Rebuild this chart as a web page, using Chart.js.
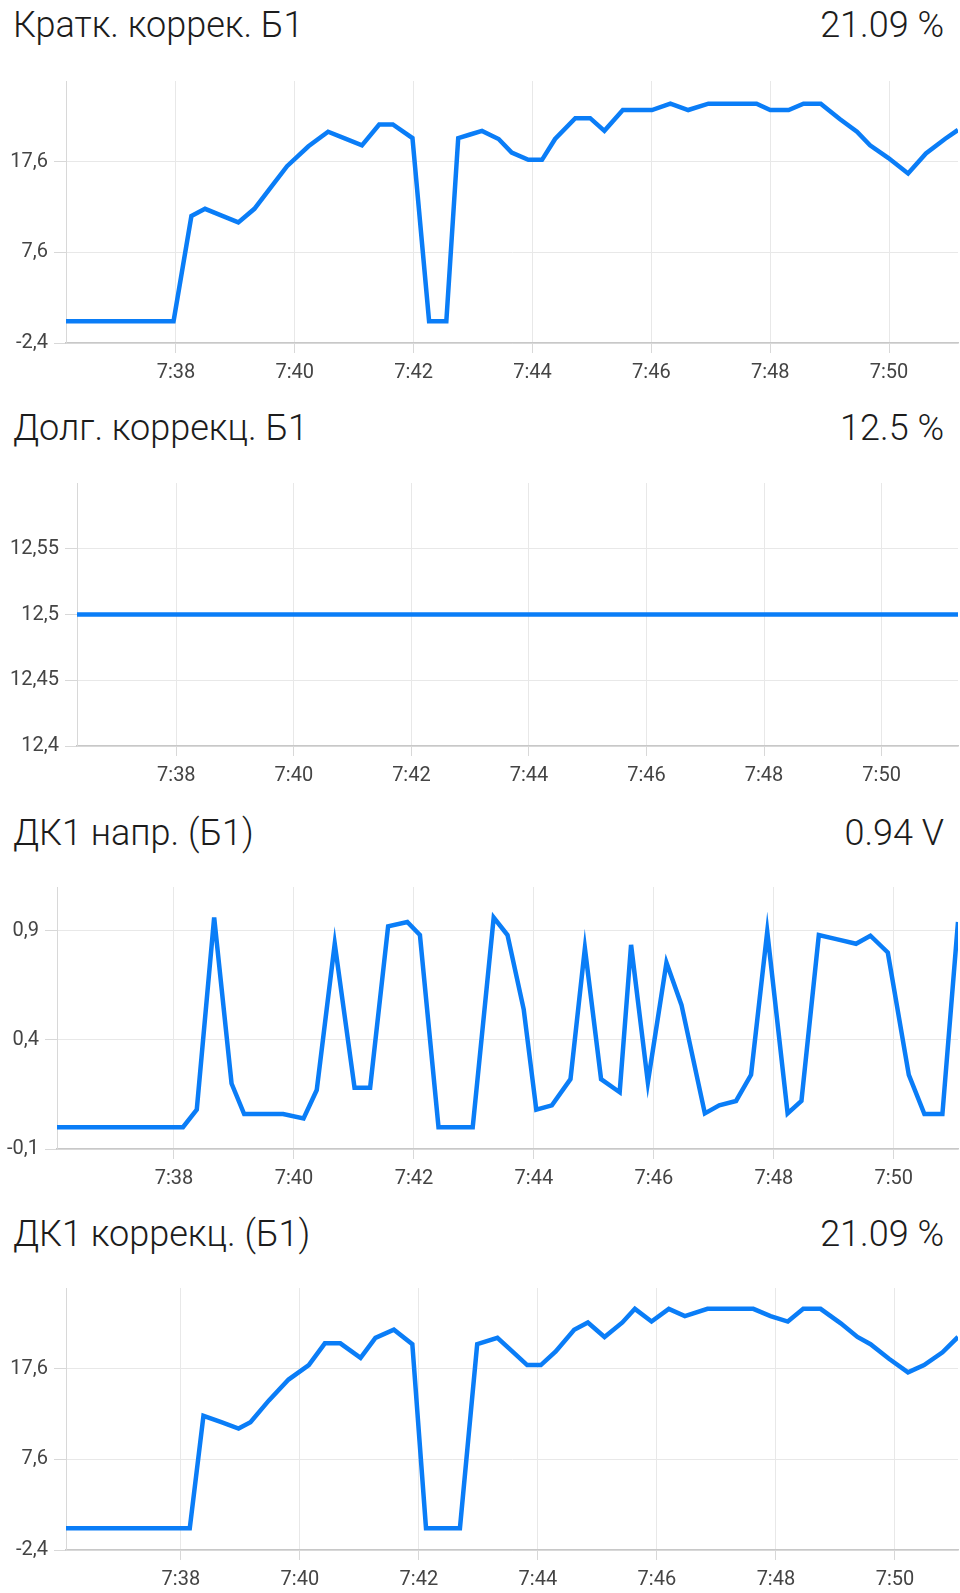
<!DOCTYPE html>
<html>
<head>
<meta charset="utf-8">
<script src="https://cdn.jsdelivr.net/npm/chart.js@4.4.1/dist/chart.umd.min.js"></script>
<style>
  body { margin: 0; background: #fff; width: 960px; height: 1593px; position: relative; overflow: hidden; font-family: Roboto, sans-serif; }
  .head { position: absolute; left: 0; width: 960px; height: 40px; line-height: 40px; font-size: 36px; font-weight: 300; color: #1c1c1c; }
  .head .name { position: absolute; left: 13px; }
  .head .val { position: absolute; right: 16px; }
  .box { position: absolute; left: 0; width: 960px; }
</style>
</head>
<body>

<div class="head" style="top:5px"><span class="name">Кратк. коррек. Б1</span><span class="val">21.09 %</span></div>
<div class="box" style="top:71px;height:317px"><canvas id="shortTrim"></canvas></div>

<div class="head" style="top:408px"><span class="name">Долг. коррекц. Б1</span><span class="val">12.5 %</span></div>
<div class="box" style="top:473px;height:318px"><canvas id="longTrim"></canvas></div>

<div class="head" style="top:813px"><span class="name">ДК1 напр. (Б1)</span><span class="val">0.94 V</span></div>
<div class="box" style="top:877px;height:317px"><canvas id="o2Volt"></canvas></div>

<div class="head" style="top:1214px"><span class="name">ДК1 коррекц. (Б1)</span><span class="val">21.09 %</span></div>
<div class="box" style="top:1278px;height:317px"><canvas id="o2Trim"></canvas></div>

<script>
// time is minutes past 7:00
const xTicks = [38, 40, 42, 44, 46, 48, 50];
const trimTicks = [-2.4, 7.6, 17.6];
const longTicks = [12.4, 12.45, 12.5, 12.55];
const voltTicks = [-0.1, 0.4, 0.9];

const shortTime = [36.15, 36.43, 36.72, 37.0, 37.29, 37.57, 37.96, 38.26, 38.49, 38.77, 39.05, 39.32, 39.59, 39.87,
  40.23, 40.56, 40.85, 41.13, 41.42, 41.65, 41.98, 42.26, 42.55, 42.75, 42.95, 43.15, 43.43, 43.65, 43.93, 44.16,
  44.38, 44.72, 44.97, 45.21, 45.52, 45.77, 46.01, 46.32, 46.62, 46.96, 47.23, 47.5, 47.77, 48.0, 48.31, 48.56,
  48.85, 49.17, 49.46, 49.68, 49.99, 50.32, 50.62, 50.94, 51.16];
const shortVal = [0, 0, 0, 0, 0, 0, 0, 11.6, 12.4, 11.65, 10.9, 12.4, 14.7, 17.1,
  19.3, 20.9, 20.15, 19.4, 21.7, 21.7, 20.2, 0, 0, 20.2, 20.6, 21.0, 20.1, 18.6, 17.8, 17.8,
  20.1, 22.4, 22.4, 21.0, 23.3, 23.3, 23.3, 24.0, 23.3, 24.0, 24.0, 24.0, 24.0, 23.3, 23.3, 24.0,
  24.0, 22.3, 20.9, 19.4, 18.0, 16.3, 18.5, 20.1, 21.1];

const longTime = [36.31, 36.9, 37.5, 38.1, 38.7, 39.3, 39.9, 40.5, 41.1, 41.7, 42.3, 42.9, 43.5,
  44.1, 44.7, 45.3, 45.9, 46.5, 47.1, 47.7, 48.3, 48.9, 49.5, 50.1, 50.7, 51.3];
const longVal = [12.5, 12.5, 12.5, 12.5, 12.5, 12.5, 12.5, 12.5, 12.5, 12.5, 12.5, 12.5, 12.5,
  12.5, 12.5, 12.5, 12.5, 12.5, 12.5, 12.5, 12.5, 12.5, 12.5, 12.5, 12.5, 12.5];

const voltTime = [36.05, 36.35, 36.65, 36.95, 37.25, 37.55, 37.85, 38.15, 38.38, 38.67, 38.96, 39.17, 39.49, 39.82,
  40.16, 40.38, 40.68, 41.01, 41.27, 41.57, 41.89, 42.10, 42.41, 42.69, 42.98, 43.33, 43.56, 43.83, 44.04, 44.30,
  44.61, 44.85, 45.12, 45.43, 45.62, 45.90, 46.21, 46.46, 46.85, 47.09, 47.37, 47.62, 47.89, 48.23, 48.46, 48.75,
  49.06, 49.37, 49.61, 49.90, 50.25, 50.51, 50.81, 51.07];
const voltVal = [0, 0, 0, 0, 0, 0, 0, 0, 0.08, 0.96, 0.2, 0.06, 0.06, 0.06,
  0.04, 0.17, 0.84, 0.18, 0.18, 0.92, 0.94, 0.88, 0, 0, 0, 0.96, 0.88, 0.54, 0.08, 0.10,
  0.22, 0.82, 0.22, 0.16, 0.835, 0.205, 0.754, 0.56, 0.063, 0.10, 0.12, 0.24, 0.896, 0.063, 0.12, 0.88,
  0.86, 0.84, 0.877, 0.80, 0.24, 0.06, 0.06, 0.94];

const o2TrimTime = [36.07, 36.37, 36.67, 36.97, 37.27, 37.57, 37.87, 38.15, 38.38, 38.68, 38.97, 39.17, 39.48, 39.81,
  40.15, 40.42, 40.68, 41.02, 41.27, 41.58, 41.89, 42.12, 42.41, 42.69, 42.98, 43.32, 43.57, 43.82, 44.05, 44.30,
  44.61, 44.84, 45.12, 45.42, 45.63, 45.91, 46.20, 46.47, 46.85, 47.24, 47.62, 47.91, 48.20, 48.46, 48.75,
  49.09, 49.37, 49.59, 49.90, 50.22, 50.49, 50.80, 51.06];
const o2TrimVal = [0, 0, 0, 0, 0, 0, 0, 0, 12.4, 11.7, 11.0, 11.7, 14.1, 16.4,
  18.0, 20.4, 20.4, 18.8, 21.0, 21.9, 20.3, 0, 0, 0, 20.3, 21.0, 19.5, 18.0, 18.0, 19.5,
  21.9, 22.7, 21.1, 22.7, 24.2, 22.8, 24.2, 23.4, 24.2, 24.2, 24.2, 23.4, 22.8, 24.2, 24.2,
  22.6, 21.1, 20.3, 18.7, 17.2, 18.0, 19.4, 21.1];

const tickFont = { family: "Roboto", size: 20 };

function noPad(s) {
  s.paddingTop = 0;
  s.paddingBottom = 0;
  s.paddingLeft = 0;
  s.paddingRight = 0;
}

function makeChart(id, times, values, yTicks, yMin, yMax, axisW) {
  const ctx = document.getElementById(id).getContext("2d");
  return new Chart(ctx, {
    type: "line",
    data: {
      datasets: [{
        data: times.map((t, i) => ({ x: t, y: values[i] })),
        borderColor: "#0a7df7",
        borderWidth: 4.5,
        pointRadius: 0,
        tension: 0,
        fill: false,
      }],
    },
    options: {
      responsive: true,
      maintainAspectRatio: false,
      animation: false,
      layout: { padding: { top: 10, right: 2, left: 0, bottom: 0 } },
      plugins: { legend: { display: false }, tooltip: { enabled: false } },
      scales: {
        x: {
          type: "linear",
          min: times[0],
          max: times[times.length - 1],
          afterBuildTicks: (s) => { s.ticks = xTicks.map((v) => ({ value: v })); },
          afterFit: (s) => { s.height = 45; noPad(s); },
          ticks: { callback: (v) => "7:" + v, font: tickFont, color: "#444", padding: 8, maxRotation: 0, autoSkip: false },
          grid: { color: "#e8e8e8", tickColor: "#d8d8d8", tickLength: 10 },
          border: { color: "#c8c8c8", width: 1.5 },
        },
        y: {
          min: yMin,
          max: yMax,
          afterBuildTicks: (s) => { s.ticks = yTicks.map((v) => ({ value: v })); },
          afterFit: (s) => { s.width = axisW; noPad(s); },
          ticks: { callback: (v) => String(v).replace(".", ","), font: tickFont, color: "#444", padding: 6 },
          grid: { color: "#e8e8e8", tickColor: "#d8d8d8", tickLength: 12 },
          border: { color: "#d8d8d8" },
        },
      },
    },
  });
}

makeChart("shortTrim", shortTime, shortVal, trimTicks, -2.4, 26.5, 66);
makeChart("longTrim", longTime, longVal, longTicks, 12.4, 12.6, 77);
makeChart("o2Volt", voltTime, voltVal, voltTicks, -0.1, 1.1, 57);
makeChart("o2Trim", o2TrimTime, o2TrimVal, trimTicks, -2.4, 26.5, 66);
</script>
</body>
</html>
